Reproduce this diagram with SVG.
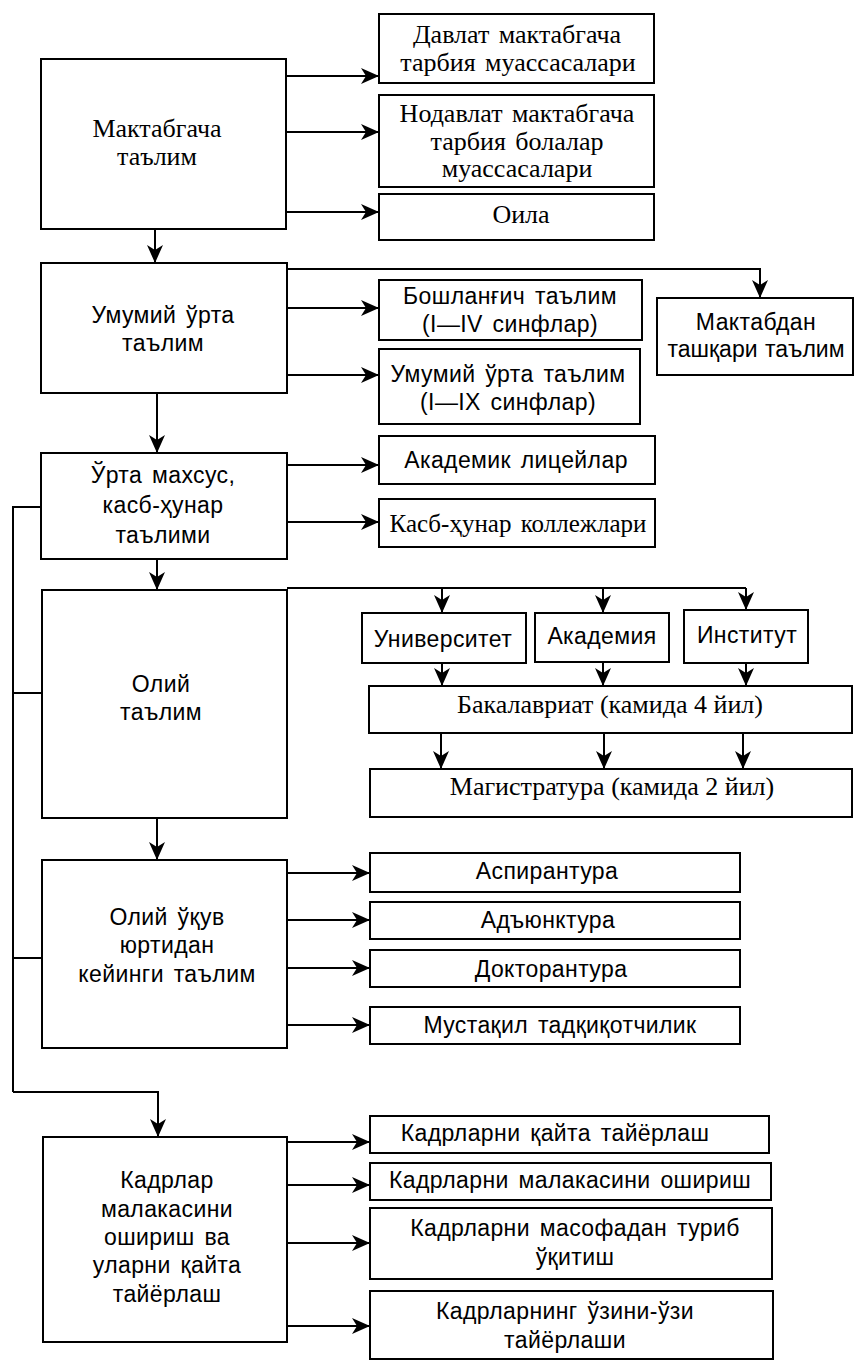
<svg xmlns="http://www.w3.org/2000/svg" width="855" height="1361" viewBox="0 0 855 1361">
<defs>
<marker id="ah" markerUnits="userSpaceOnUse" markerWidth="18" markerHeight="16" refX="18" refY="8" orient="auto">
<path d="M0,0 L18,8 L0,16 L5,8 z" fill="#000"/>
</marker>
<style>
.b{fill:#fff;stroke:#000;stroke-width:2}
.c{fill:none;stroke:#000;stroke-width:2;marker-end:url(#ah)}
.l{fill:none;stroke:#000;stroke-width:2}
.s{font-family:"Liberation Serif","DejaVu Serif",serif;font-size:26px;word-spacing:3px;text-anchor:middle;fill:#000}
.n{font-family:"Liberation Sans","DejaVu Sans",sans-serif;font-size:23px;letter-spacing:0.4px;word-spacing:3px;text-anchor:middle;fill:#000}
.t{word-spacing:0}
</style>
</defs>
<rect width="855" height="1361" fill="#fff"/>

<g id="connectors">
<path class="c" d="M287,76 H379"/>
<path class="c" d="M287,132 H379"/>
<path class="c" d="M287,212 H379"/>
<path class="c" d="M155,229 V263"/>
<path class="c" d="M287,269 H760 V298"/>
<path class="c" d="M287,308 H379"/>
<path class="c" d="M287,375 H379"/>
<path class="c" d="M157,393 V453"/>
<path class="c" d="M287,465 H379"/>
<path class="c" d="M287,522 H379"/>
<path class="c" d="M157,559 V590"/>
<path class="l" d="M287,588 H746"/>
<path class="c" d="M442,588 V613"/>
<path class="c" d="M603,588 V613"/>
<path class="c" d="M746,588 V610"/>
<path class="c" d="M442,663 V686"/>
<path class="c" d="M603,662 V686"/>
<path class="c" d="M746,663 V686"/>
<path class="c" d="M441,733 V769"/>
<path class="c" d="M604,733 V769"/>
<path class="c" d="M743,733 V769"/>
<path class="c" d="M157,818 V860"/>
<path class="c" d="M287,873 H370"/>
<path class="c" d="M287,920 H370"/>
<path class="c" d="M287,968 H370"/>
<path class="c" d="M287,1025 H370"/>
<path class="l" d="M41,507 H13 V1092"/>
<path class="l" d="M13,693 H42"/>
<path class="l" d="M13,958 H42"/>
<path class="c" d="M13,1092 H158 V1137"/>
<path class="c" d="M287,1142 H370"/>
<path class="c" d="M287,1185 H370"/>
<path class="c" d="M287,1243 H370"/>
<path class="c" d="M287,1326 H370"/>
</g>

<g id="n-maktabgacha">
<rect class="b" x="41" y="59" width="245" height="170"/>
<text class="s" x="157" y="137">Мактабгача</text>
<text class="s" x="157" y="165">таълим</text>
</g>
<g id="n-davlat">
<rect class="b" x="379" y="14" width="275" height="69"/>
<text class="s" x="517" y="43">Давлат мактабгача</text>
<text class="s" x="518" y="71">тарбия муассасалари</text>
</g>
<g id="n-nodavlat">
<rect class="b" x="379" y="95" width="275" height="92"/>
<text class="s" x="517" y="122">Нодавлат мактабгача</text>
<text class="s" x="517" y="150">тарбия болалар</text>
<text class="s" x="517" y="177">муассасалари</text>
</g>
<g id="n-oila">
<rect class="b" x="379" y="194" width="275" height="46"/>
<text class="s" x="521" y="223">Оила</text>
</g>

<g id="n-umumiy">
<rect class="b" x="41" y="263" width="246" height="130"/>
<text class="n" x="163" y="323">Умумий ўрта</text>
<text class="n" x="163" y="351">таълим</text>
</g>
<g id="n-boshlangich">
<rect class="b" x="379" y="280" width="263" height="60"/>
<text class="n" x="510" y="304">Бошланғич таълим</text>
<text class="n" x="510" y="332">(I—IV синфлар)</text>
</g>
<g id="n-umumiy2">
<rect class="b" x="379" y="349" width="261" height="75"/>
<text class="n" x="508" y="382">Умумий ўрта таълим</text>
<text class="n" x="508" y="410">(I—IX синфлар)</text>
</g>
<g id="n-maktabdan">
<rect class="b" x="657" y="298" width="196" height="77"/>
<text class="n" x="756" y="330">Мактабдан</text>
<text class="n" x="756" y="357" style="letter-spacing:0;word-spacing:1px">ташқари таълим</text>
</g>
<g id="n-akademik">
<rect class="b" x="379" y="436" width="276" height="48"/>
<text class="n" x="516" y="468">Академик лицейлар</text>
</g>
<g id="n-kasb">
<rect class="b" x="379" y="499" width="276" height="48"/>
<text class="s" x="518" y="532" style="font-size:25px">Касб-ҳунар коллежлари</text>
</g>
<g id="n-urta">
<rect class="b" x="41" y="453" width="246" height="106"/>
<text class="n" x="163" y="483">Ўрта махсус,</text>
<text class="n" x="163" y="513">касб-ҳунар</text>
<text class="n" x="163" y="543">таълими</text>
</g>

<g id="n-oliy">
<rect class="b" x="42" y="590" width="245" height="228"/>
<text class="n" x="161" y="692">Олий</text>
<text class="n" x="161" y="720">таълим</text>
</g>
<g id="n-universitet">
<rect class="b" x="362" y="613" width="164" height="50"/>
<text class="n" x="443" y="647">Университет</text>
</g>
<g id="n-akademiya">
<rect class="b" x="535" y="613" width="134" height="49"/>
<text class="n" x="602" y="644">Академия</text>
</g>
<g id="n-institut">
<rect class="b" x="684" y="610" width="124" height="53"/>
<text class="n" x="747" y="643">Институт</text>
</g>
<g id="n-bakalavr">
<rect class="b" x="369" y="686" width="483" height="47"/>
<text class="s t" x="610" y="713">Бакалавриат (камида 4 йил)</text>
</g>
<g id="n-magistr">
<rect class="b" x="370" y="769" width="482" height="48"/>
<text class="s t" x="612" y="795">Магистратура (камида 2 йил)</text>
</g>

<g id="n-oliyukuv">
<rect class="b" x="42" y="860" width="245" height="188"/>
<text class="n" x="167" y="925">Олий ўқув</text>
<text class="n" x="167" y="953">юртидан</text>
<text class="n" x="167" y="982">кейинги таълим</text>
</g>
<g id="n-aspirantura">
<rect class="b" x="370" y="853" width="370" height="39"/>
<text class="n" x="547" y="879">Аспирантура</text>
</g>
<g id="n-adyunktura">
<rect class="b" x="370" y="902" width="370" height="37"/>
<text class="n" x="548" y="928">Адъюнктура</text>
</g>
<g id="n-doktorantura">
<rect class="b" x="370" y="950" width="370" height="37"/>
<text class="n" x="551" y="977">Докторантура</text>
</g>
<g id="n-mustaqil">
<rect class="b" x="370" y="1007" width="370" height="37"/>
<text class="n" x="560" y="1033">Мустақил тадқиқотчилик</text>
</g>

<g id="n-kadrlar">
<rect class="b" x="43" y="1137" width="244" height="205"/>
<text class="n" x="167" y="1188">Кадрлар</text>
<text class="n" x="167" y="1217">малакасини</text>
<text class="n" x="167" y="1245">ошириш ва</text>
<text class="n" x="167" y="1273">уларни қайта</text>
<text class="n" x="167" y="1302">тайёрлаш</text>
</g>
<g id="n-qayta">
<rect class="b" x="370" y="1116" width="399" height="37"/>
<text class="n" x="555" y="1141">Кадрларни қайта тайёрлаш</text>
</g>
<g id="n-malaka">
<rect class="b" x="370" y="1163" width="401" height="37"/>
<text class="n" x="570" y="1188">Кадрларни малакасини ошириш</text>
</g>
<g id="n-masofa">
<rect class="b" x="370" y="1208" width="402" height="71"/>
<text class="n" x="575" y="1236">Кадрларни масофадан туриб</text>
<text class="n" x="575" y="1265">ўқитиш</text>
</g>
<g id="n-uzini">
<rect class="b" x="370" y="1291" width="403" height="68"/>
<text class="n" x="565" y="1319">Кадрларнинг ўзини-ўзи</text>
<text class="n" x="565" y="1348">тайёрлаши</text>
</g>
</svg>
